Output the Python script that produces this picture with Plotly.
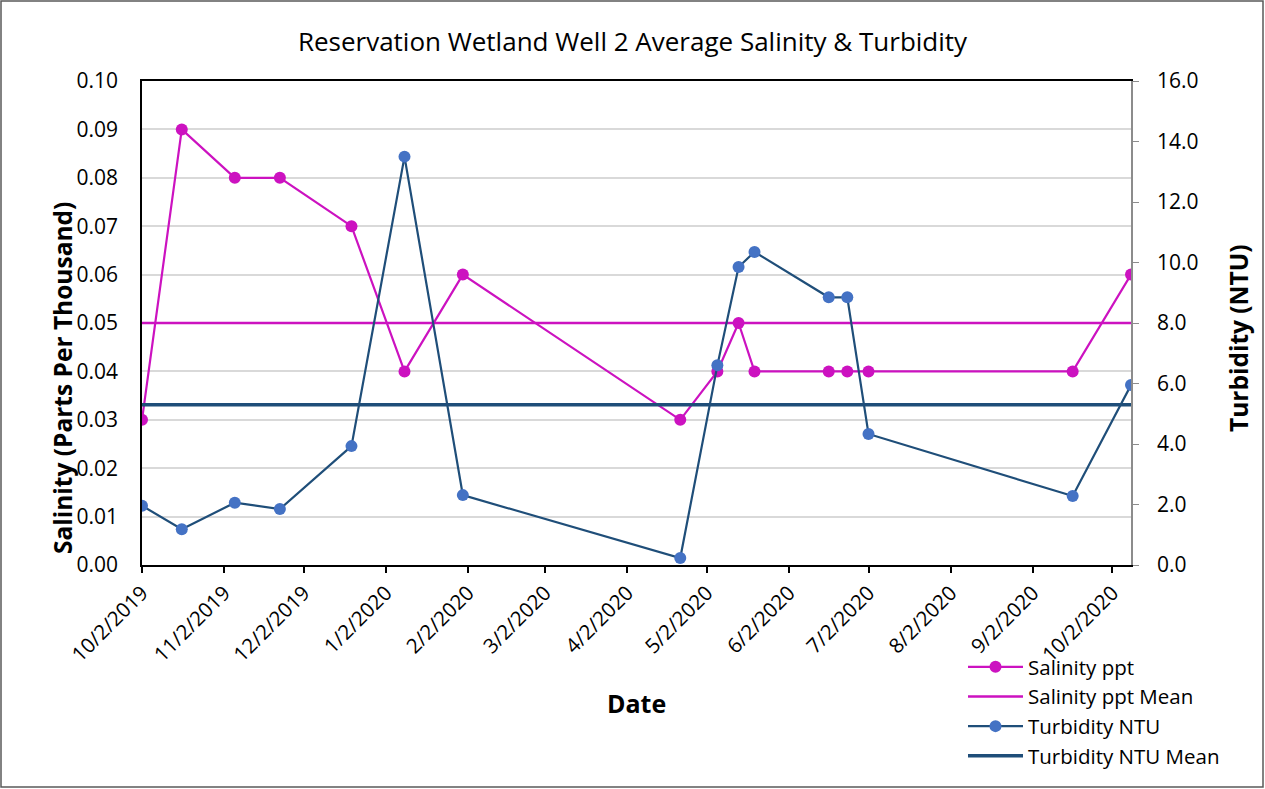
import plotly.graph_objects as go

dates = ["2019-10-02", "2019-10-17", "2019-11-06", "2019-11-23", "2019-12-20",
         "2020-01-09", "2020-01-31", "2020-04-22", "2020-05-06", "2020-05-14",
         "2020-05-20", "2020-06-17", "2020-06-24", "2020-07-02", "2020-09-17",
         "2020-10-09"]
salinity = [0.03, 0.09, 0.08, 0.08, 0.07, 0.04, 0.06, 0.03, 0.04, 0.05,
            0.04, 0.04, 0.04, 0.04, 0.04, 0.06]
turbidity = [1.96, 1.18, 2.06, 1.85, 3.93, 13.5, 2.31, 0.23, 6.6, 9.85,
             10.35, 8.85, 8.85, 4.33, 2.28, 5.95]
mean_dates = ["2019-10-02", "2020-10-09"]
salinity_mean = [0.05, 0.05]
turbidity_mean = [5.3, 5.3]

title_text = "Reservation Wetland Well 2 Average Salinity & Turbidity"
FONT = "Open Sans, Calibri, sans-serif"
MAG = "#CC12C0"
DBLUE = "#1F4E79"
MBLUE = "#4472C4"

fig = go.Figure()
fig.add_trace(go.Scatter(x=dates, y=salinity, name="Salinity ppt", mode="lines+markers",
                         line=dict(color=MAG, width=2.2),
                         marker=dict(color=MAG, size=12), yaxis="y"))
fig.add_trace(go.Scatter(x=mean_dates, y=salinity_mean, name="Salinity ppt Mean", mode="lines",
                         line=dict(color=MAG, width=2.5), yaxis="y"))
fig.add_trace(go.Scatter(x=dates, y=turbidity, name="Turbidity NTU", mode="lines+markers",
                         line=dict(color=DBLUE, width=2.2),
                         marker=dict(color=MBLUE, size=12), yaxis="y2"))
fig.add_trace(go.Scatter(x=mean_dates, y=turbidity_mean, name="Turbidity NTU Mean", mode="lines",
                         line=dict(color=DBLUE, width=3.5), yaxis="y2"))

W, H = 1265, 789
PL, PR, PT, PB = 142, 1131, 81, 565          # plot area in page pixels
L, R, T, B = PL, W - PR, PT, H - PB
pw, ph = PR - PL, PB - PT

def px(x):
    return (x - PL) / pw

def py(y):
    return (PB - y) / ph

fig.update_layout(
    width=W, height=H, autosize=False,
    margin=dict(l=L, r=R, t=T, b=B),
    paper_bgcolor="white", plot_bgcolor="white",
    font=dict(family=FONT, color="black", size=20),
    showlegend=True,
    title=dict(text=title_text, x=0.5, xanchor="center", y=1 - 42 / H, yanchor="middle",
               font=dict(size=26, family=FONT, color="black")),
    xaxis=dict(
        type="date", range=["2019-10-02", "2020-10-09"],
        tick0="2019-10-02", dtick="M1", tickformat="%-m/%-d/%Y", tickangle=-45,
        ticks="outside", ticklen=6, tickcolor="black", tickwidth=1.5,
        showline=True, linecolor="black", linewidth=1.5, mirror=True,
        showgrid=False, zeroline=False,
        tickfont=dict(size=20.5, family=FONT),
    ),
    yaxis=dict(
        range=[0, 0.1], dtick=0.01, tickformat=".2f",
        showline=True, linecolor="black", linewidth=1.5,
        showgrid=True, gridcolor="#D9D9D9", gridwidth=1.5, zeroline=False,
        ticks="", ticklabelstandoff=18,
        tickfont=dict(size=21, family=FONT),
    ),
    yaxis2=dict(
        range=[0, 16], dtick=2, tickformat=".1f", overlaying="y", side="right",
        showline=True, linecolor="#8C8C8C", linewidth=1.5,
        ticks="outside", ticklen=6, tickcolor="#8C8C8C",
        showgrid=False, zeroline=False, ticklabelstandoff=14,
        tickfont=dict(size=21, family=FONT),
    ),
    legend=dict(x=px(963), y=py(647), xanchor="left", yanchor="top",
                bgcolor="rgba(0,0,0,0)", font=dict(size=20.5, family=FONT),
                itemwidth=55, tracegroupgap=0),
    annotations=[
        dict(text="<b>Date</b>", x=px(636), y=py(703), xref="paper", yref="paper",
             showarrow=False, font=dict(size=25, family=FONT), xanchor="center", yanchor="middle"),
        dict(text="<b>Salinity (Parts Per Thousand)</b>", x=px(62), y=py(378), xref="paper", yref="paper",
             showarrow=False, textangle=-90, font=dict(size=24.5, family=FONT),
             xanchor="center", yanchor="middle"),
        dict(text="<b>Turbidity (NTU)</b>", x=px(1238), y=py(338), xref="paper", yref="paper",
             showarrow=False, textangle=-90, font=dict(size=24.5, family=FONT),
             xanchor="center", yanchor="middle"),
    ],
    shapes=[
        dict(type="rect", xref="paper", yref="paper",
             x0=px(1), x1=px(1263), y0=py(787), y1=py(1),
             line=dict(color="#595959", width=1.5), fillcolor="rgba(0,0,0,0)", layer="below"),
    ],
)

fig.write_html("out.html", config={"responsive": False, "displayModeBar": False},
               post_script="document.body.style.margin='0';document.body.style.overflow='hidden';")
